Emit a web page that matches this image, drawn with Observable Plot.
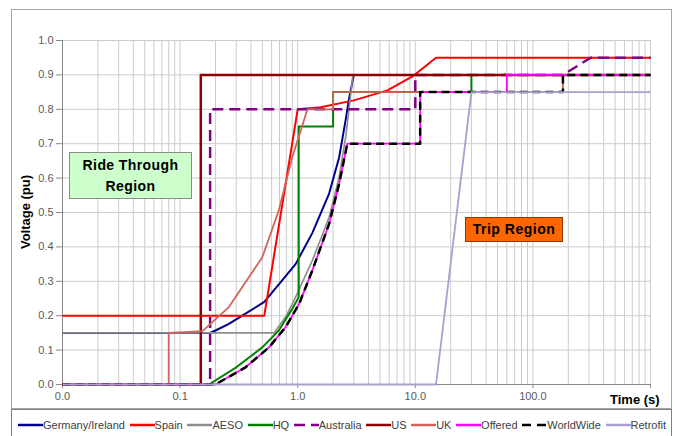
<!DOCTYPE html>
<html><head><meta charset="utf-8">
<script src="https://cdn.jsdelivr.net/npm/d3@7"></script>
<script src="https://cdn.jsdelivr.net/npm/@observablehq/plot@0.6"></script>
<style>
body{margin:0;background:#fff;font-family:"Liberation Sans",Arial,sans-serif;}
#wrap{position:relative;width:675px;height:436px;overflow:hidden;background:#fff;}
#chart{position:absolute;left:0;top:0;}
.frame{position:absolute;left:11px;top:9px;width:661px;height:400px;box-sizing:border-box;border:1px solid #a6a6a6;pointer-events:none;}
.ride{position:absolute;left:69px;top:152px;width:123px;height:47px;box-sizing:border-box;background:#ccffcc;border:1px solid #8c8c8c;font-weight:bold;font-size:14px;letter-spacing:0.4px;text-align:center;line-height:21px;padding-top:2px;color:#000;}
.trip{position:absolute;left:465px;top:217px;width:98px;height:25px;box-sizing:border-box;background:#ff6600;border:1px solid #8a3a00;font-weight:bold;font-size:14px;letter-spacing:0.5px;text-align:center;line-height:23px;color:#000;}
.ylab{position:absolute;left:25px;top:212px;transform:translate(-50%,-50%) rotate(-90deg);font-weight:bold;font-size:13px;white-space:nowrap;color:#000;}
.xlab{position:absolute;left:610px;top:392px;font-weight:bold;font-size:13px;white-space:nowrap;color:#000;}
#legend{position:absolute;left:11px;top:409px;width:661px;height:40px;box-sizing:border-box;border:1px solid #7f7f7f;display:flex;justify-content:space-between;align-items:flex-start;padding:9px 5px 0 6px;font-size:11px;color:#404040;}
#legend .it{display:flex;align-items:center;white-space:nowrap;}
#legend svg{display:block;}
</style></head><body>
<div id="wrap">
 <div id="chart"></div>
 <div class="frame"></div>
 <div class="ride">Ride Through<br>Region</div>
 <div class="trip">Trip Region</div>
 <div class="ylab">Voltage (pu)</div>
 <div class="xlab">Time (s)</div>
 <div id="legend"></div>
</div>
<script>
// Series: [time (s), voltage (pu)]
const germanyIreland = [[0.01,0.15],[0.18,0.15],[0.2,0.157],[0.26,0.176],[0.52,0.24],[0.96,0.35],[1.33,0.44],[1.85,0.555],[2.25,0.66],[2.56,0.77],[2.73,0.83],[3.0,0.9]];
const spain = [[0.01,0.2],[0.52,0.2],[1.0,0.8],[1.57,0.806],[3,0.826],[5.8,0.855],[9.7,0.898],[15,0.95],[1000,0.95]];
const aeso = [[0.01,0.15],[0.63,0.15],[0.8,0.2],[0.96,0.254],[1.33,0.36],[1.85,0.486],[2.25,0.603],[2.56,0.72],[2.73,0.8],[2.95,0.9]];
const hq = [[0.01,0],[0.176,0],[0.3,0.05],[0.5,0.108],[0.69,0.157],[0.9,0.22],[1.02,0.254],[1.02,0.75],[2,0.75],[2,0.85],[30,0.85],[30,0.9],[1000,0.9]];
const australia = [[0.01,0],[0.18,0],[0.18,0.8],[10,0.8],[10,0.9],[180,0.9],[310,0.95],[1000,0.95]];
const us = [[0.01,0],[0.15,0],[0.15,0.9],[1000,0.9]];
const uk = [[0.01,0],[0.08,0],[0.08,0.15],[0.155,0.155],[0.26,0.225],[0.5,0.37],[0.69,0.506],[0.9,0.661],[1.21,0.8],[2,0.8],[2,0.85],[180,0.85],[180,0.9],[1000,0.9]];
const offered = [[0.01,0],[0.2,0],[0.36,0.05],[0.57,0.108],[0.79,0.167],[1.03,0.235],[1.33,0.331],[1.85,0.467],[2.25,0.583],[2.64,0.7],[11,0.7],[11,0.85],[60,0.85],[60,0.9],[1000,0.9]];
const worldWide = [[0.01,0],[0.2,0],[0.36,0.05],[0.57,0.108],[0.79,0.167],[1.03,0.235],[1.33,0.331],[1.85,0.467],[2.25,0.583],[2.64,0.7],[11,0.7],[11,0.85],[180,0.85],[180,0.9],[1000,0.9]];
const retrofit = [[0.01,0],[15,0],[30,0.85],[1000,0.85]];

const seriesNames = ["Germany/Ireland","Spain","AESO","HQ","Australia","US","UK","Offered","WorldWide","Retrofit"];
const seriesData = [germanyIreland, spain, aeso, hq, australia, us, uk, offered, worldWide, retrofit];
const seriesColors = ["#00008b","#ff0000","#8c8c8c","#008000","#800080","#8b0000","#d0645a","#ff00ff","#000000","#aa9fd0"];
const seriesDash = [null,null,null,null,"11,6",null,null,null,"8,5",null];
const seriesWidth = [2,2,1.6,2,2.5,2.5,1.8,1.8,2.5,1.8];

const xDecadeTicks = [0.01,0.1,1,10,100,1000];
const yTicks = d3.range(0,11).map(i=>i/10);
const xMinorTicks = d3.scaleLog().domain([0.01,1000]).ticks();

const lineMarks = seriesData.map((data,i)=>Plot.line(data,{
  x:d=>d[0], y:d=>d[1], stroke:seriesColors[i], strokeWidth:seriesWidth[i],
  strokeDasharray:seriesDash[i] || undefined, strokeLinejoin:"round", strokeLinecap:"butt"
}));

const fmt = d3.format(".1f");
const chart = Plot.plot({
  width:675, height:410,
  marginLeft:62, marginRight:25, marginTop:40, marginBottom:26,
  x:{type:"log", domain:[0.01,1000]},
  y:{domain:[0,1]},
  style:{fontFamily:"'Liberation Sans', Arial, sans-serif", fontSize:"11px", color:"#5a5a5a", background:"transparent", overflow:"visible"},
  marks:[
    Plot.gridX(xMinorTicks,{stroke:"#cccccc", strokeOpacity:1}),
    Plot.gridY(yTicks,{stroke:"#cccccc", strokeOpacity:1}),
    Plot.axisX(xDecadeTicks,{tickFormat:d=>d>=1000?"":fmt(d), tickSize:4, tickPadding:4, label:null, stroke:"#888"}),
    Plot.axisY(yTicks,{tickFormat:fmt, tickSize:6, tickPadding:3, label:null, stroke:"#888"}),
    Plot.ruleX([0.01],{stroke:"#888"}),
    Plot.ruleY([0],{stroke:"#888"}),
    ...lineMarks
  ]
});
document.getElementById("chart").appendChild(chart);

const legend = document.getElementById("legend");
seriesNames.forEach((name,i)=>{
  const it = document.createElement("div");
  it.className="it";
  const dash = seriesDash[i] ? ` stroke-dasharray="${i===8?'9,6':seriesDash[i]}"` : "";
  it.innerHTML = `<svg width="25" height="6"><line x1="0" y1="3" x2="25" y2="3" stroke="${seriesColors[i]}" stroke-width="2.5"${dash}/></svg><span>${name}</span>`;
  legend.appendChild(it);
});
</script>
</body></html>
